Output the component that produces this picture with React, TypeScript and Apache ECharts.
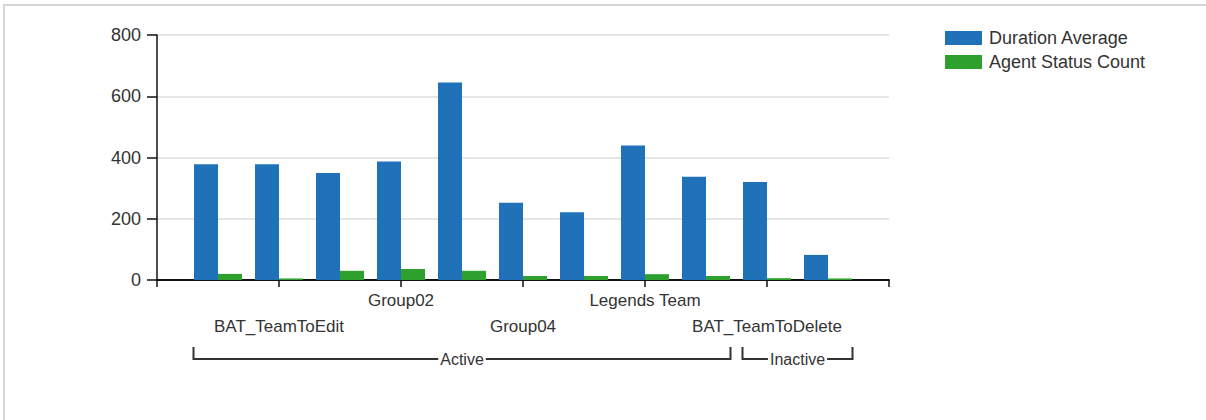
import React, { useEffect, useRef } from "react";
import * as echarts from "echarts";

const categories = ["", "", "BAT_TeamToEdit", "", "Group02", "", "Group04", "", "Legends Team", "", "BAT_TeamToDelete", "", ""];
const durationAverage = [null, 378, 378, 349, 387, 645, 252, 221, 439, 337, 320, 82, null];
const agentStatusCount = [null, 20, 5, 30, 36, 30, 13, 13, 19, 13, 6, 5, null];
const seriesNames = ["Duration Average", "Agent Status Count"];
const groups = [
  { name: "Active", from: 1, to: 9 },
  { name: "Inactive", from: 10, to: 11 },
];
const yTicks = { min: 0, max: 800, interval: 200 };

const FONT = "'Liberation Sans', Arial, sans-serif";

export default function App() {
  const ref = useRef<HTMLDivElement>(null);
  useEffect(() => {
    if (!ref.current) return;
    const chart = echarts.init(ref.current, undefined, { renderer: "svg" });
    const labelStyle = {
      fontSize: 17,
      lineHeight: 20,
      color: "#333",
      fontFamily: FONT,
    };
    const option: any = {
      animation: false,
      backgroundColor: "#ffffff",
      textStyle: { fontFamily: FONT },
      grid: { left: 157, right: 317, top: 35, bottom: 140, containLabel: false },
      legend: {
        orient: "vertical",
        left: 945,
        top: 29,
        padding: 0,
        itemWidth: 37,
        itemHeight: 14,
        itemGap: 6,
        icon: "rect",
        data: seriesNames,
        textStyle: { fontSize: 18, color: "#333", fontFamily: FONT, padding: [0, 0, 0, 2] },
      },
      xAxis: [
        {
          type: "category",
          data: categories,
          boundaryGap: false,
          axisLine: { show: true, lineStyle: { color: "#111", width: 2 } },
          axisTick: {
            show: true,
            length: 7,
            interval: (i: number) => i % 2 === 0,
            lineStyle: { color: "#111", width: 1.5 },
          },
          axisLabel: {
            ...labelStyle,
            interval: (i: number) => i > 0 && i < categories.length - 1 && i % 4 === 0,
            margin: 10,
          },
          splitLine: { show: false },
        },
        {
          type: "category",
          data: categories,
          boundaryGap: false,
          position: "bottom",
          offset: 0,
          axisLine: { show: false },
          axisTick: { show: false },
          axisLabel: {
            ...labelStyle,
            interval: (i: number) => i > 0 && i < categories.length - 1 && i % 4 === 2,
            margin: 36,
          },
          splitLine: { show: false },
        },
      ],
      yAxis: {
        type: "value",
        min: yTicks.min,
        max: yTicks.max,
        interval: yTicks.interval,
        axisLine: { show: true, lineStyle: { color: "#111", width: 1.5 } },
        axisTick: { show: true, length: 10, lineStyle: { color: "#111", width: 1.5 } },
        axisLabel: { fontSize: 18, color: "#333", margin: 16, fontFamily: FONT },
        splitLine: { show: true, lineStyle: { color: "#dcdcdc", width: 1.5 } },
      },
      series: [
        {
          name: seriesNames[0],
          type: "bar",
          xAxisIndex: 0,
          data: durationAverage,
          barWidth: 24,
          barGap: "0%",
          itemStyle: { color: "#1f72b8" },
        },
        {
          name: seriesNames[1],
          type: "bar",
          xAxisIndex: 0,
          data: agentStatusCount,
          barWidth: 24,
          barGap: "0%",
          itemStyle: { color: "#2ea02e" },
        },
      ],
    };
    chart.setOption(option);

    const half = 24.5;
    const yTop = 347;
    const yLine = 359;
    const graphics: any[] = [
      {
        type: "rect",
        shape: { x: 4, y: 5, width: 1300, height: 600 },
        style: { fill: "none", stroke: "#d6d6d6", lineWidth: 2 },
        silent: true,
        z: 0,
      },
    ];
    groups.forEach((g) => {
      const x1 = (chart.convertToPixel({ xAxisIndex: 0 } as any, g.from) as number) - half;
      const x2 = (chart.convertToPixel({ xAxisIndex: 0 } as any, g.to) as number) + half;
      graphics.push({
        type: "polyline",
        shape: { points: [[x1, yTop], [x1, yLine], [x2, yLine], [x2, yTop]] },
        style: { stroke: "#333", lineWidth: 2, fill: "none" },
        silent: true,
        z: 10,
      });
      graphics.push({
        type: "text",
        x: (x1 + x2) / 2,
        y: yLine,
        style: {
          text: g.name,
          fontSize: 16,
          fontFamily: FONT,
          fill: "#333",
          align: "center",
          verticalAlign: "middle",
          backgroundColor: "#fff",
          padding: [1, 2],
        },
        silent: true,
        z: 11,
      });
    });
    chart.setOption({ graphic: graphics });
    return () => chart.dispose();
  }, []);
  return (
    <div
      ref={ref}
      style={{ position: "fixed", left: 0, top: 0, width: 1206, height: 420 }}
    />
  );
}
